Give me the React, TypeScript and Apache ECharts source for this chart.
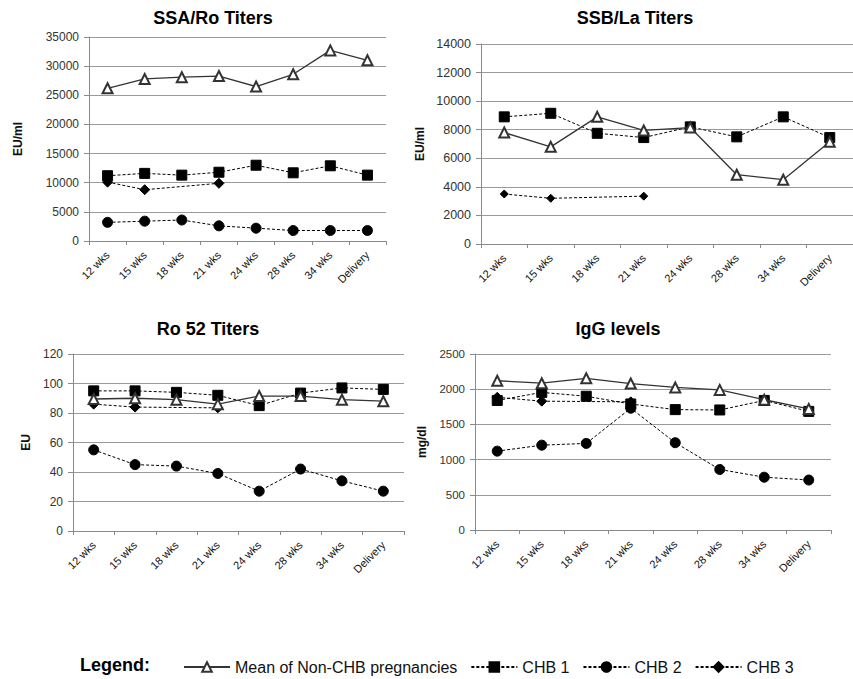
import React, { useEffect, useRef } from "react";
import * as echarts from "echarts";

const categories = ["12 wks", "15 wks", "18 wks", "21 wks", "24 wks", "28 wks", "34 wks", "Delivery"];

const ssaMean = [26200, 27800, 28100, 28300, 26500, 28600, 32700, 31000];
const ssaChb1 = [11200, 11600, 11300, 11800, 13000, 11700, 12900, 11300];
const ssaChb2 = [3200, 3400, 3600, 2600, 2200, 1800, 1800, 1800];
const ssaChb3 = [10100, 8800, null, 9900, null, null, null, null];

const ssbMean = [7800, 6800, 8900, 7950, 8150, 4850, 4500, 7150];
const ssbChb1 = [8900, 9150, 7750, 7450, 8200, 7500, 8900, 7450];
const ssbChb2 = [null, null, null, null, null, null, null, null];
const ssbChb3 = [3500, 3200, null, 3350, null, null, null, null];

const ro52Mean = [89.5, 90, 89, 86, 91.5, 91.5, 89, 88];
const ro52Chb1 = [95, 95, 94, 92, 85, 93.5, 97, 96];
const ro52Chb2 = [55, 45, 44, 39, 27, 42, 34, 27];
const ro52Chb3 = [86, 84, null, 83.5, null, null, null, null];

const iggMean = [2120, 2085, 2155, 2080, 2025, 1990, 1850, 1720];
const iggChb1 = [1840, 1955, 1900, 1790, 1710, 1705, 1840, 1685];
const iggChb2 = [1120, 1205, 1230, 1730, 1240, 860, 750, 710];
const iggChb3 = [1885, 1830, null, 1820, null, null, null, null];

const titles = ["SSA/Ro Titers", "SSB/La Titers", "Ro 52 Titers", "IgG levels"];
const yNames = ["EU/ml", "EU/ml", "EU", "mg/dl"];
const yMax = [35000, 14000, 120, 2500];
const yInterval = [5000, 2000, 20, 500];
const seriesNames = ["Mean of Non-CHB pregnancies", "CHB 1", "CHB 2", "CHB 3"];

const panels = [
  [ssaMean, ssaChb1, ssaChb2, ssaChb3],
  [ssbMean, ssbChb1, ssbChb2, ssbChb3],
  [ro52Mean, ro52Chb1, ro52Chb2, ro52Chb3],
  [iggMean, iggChb1, iggChb2, iggChb3],
];

const FONT = "'Liberation Sans', Arial, sans-serif";

export default function App() {
  const ref = useRef<HTMLDivElement>(null);
  useEffect(() => {
    if (!ref.current) return;
    const chart = echarts.init(ref.current, null, { renderer: "svg" });

    const grids = [
      { left: 89, top: 37, width: 297, height: 204 },
      { left: 481, top: 44, width: 381, height: 200 },
      { left: 73, top: 354, width: 331, height: 177 },
      { left: 475, top: 354, width: 356, height: 176 },
    ];
    const nameGaps = [65, 55, 41, 47];
    const yFont = [12, 12.5, 12, 11.5];
    const titlePos = [
      [213, 18],
      [635, 18],
      [208, 329],
      [618, 329],
    ];

    const xAxes = grids.map((_, i) => ({
      type: "category",
      gridIndex: i,
      data: categories,
      boundaryGap: true,
      axisLine: { lineStyle: { color: "#8a8a8a", width: 1 } },
      axisTick: { show: true, length: 4, lineStyle: { color: "#8a8a8a" } },
      axisLabel: { rotate: 45, fontSize: 11, color: "#111", fontFamily: FONT, margin: 12 },
      splitLine: { show: false },
    }));
    const yAxes = grids.map((_, i) => ({
      type: "value",
      gridIndex: i,
      min: 0,
      max: yMax[i],
      interval: yInterval[i],
      name: yNames[i],
      nameLocation: "middle",
      nameRotate: 90,
      nameGap: nameGaps[i],
      nameTextStyle: { fontSize: 12, fontWeight: "bold", color: "#111", fontFamily: FONT },
      axisLine: { show: true, lineStyle: { color: "#8a8a8a", width: 1 } },
      axisTick: { show: true, length: 5, lineStyle: { color: "#8a8a8a" } },
      axisLabel: {
        fontSize: yFont[i],
        color: "#333",
        fontFamily: FONT,
        margin: 10,
        formatter: (v: number) => String(v),
      },
      splitLine: { show: true, lineStyle: { color: "#9a9a9a", width: 1.2 } },
    }));

    const styles = [
      { symbol: "emptyTriangle", size: 10, color: "#333", line: "solid" as any, width: 1.3 },
      { symbol: "rect", size: 10, color: "#000", line: [3, 2], width: 1 },
      { symbol: "circle", size: 10, color: "#000", line: [3, 2], width: 1 },
      { symbol: "diamond", size: 10, color: "#000", line: [3, 2], width: 1 },
    ];

    const series: any[] = [];
    panels.forEach((vals, p) => {
      vals.forEach((data, s) => {
        const st = styles[s];
        series.push({
          type: "line",
          name: seriesNames[s],
          xAxisIndex: p,
          yAxisIndex: p,
          data,
          connectNulls: true,
          symbol: st.symbol,
          symbolSize: p === 1 && s === 3 ? 8 : st.size,
          itemStyle: { color: st.color, borderColor: st.color, borderWidth: 1 },
          lineStyle: { color: st.color, width: st.width, type: st.line },
          z: s === 0 ? 3 : 2,
        });
      });
    });

    const graphic: any[] = titles.map((t, i) => ({
      type: "text",
      x: titlePos[i][0],
      y: titlePos[i][1],
      style: {
        text: t,
        textAlign: "center",
        textVerticalAlign: "middle",
        font: `bold 18px ${FONT}`,
        fill: "#000",
      },
    }));
    graphic.push({
      type: "text",
      x: 80,
      y: 665,
      style: {
        text: "Legend:",
        textAlign: "left",
        textVerticalAlign: "middle",
        font: `bold 18px ${FONT}`,
        fill: "#000",
      },
    });

    chart.setOption({
      animation: false,
      backgroundColor: "#fff",
      grid: grids.map((g) => ({ ...g, containLabel: false })),
      xAxis: xAxes,
      yAxis: yAxes,
      series,
      graphic,
      legend: {
        left: 178,
        top: 654,
        itemWidth: 46,
        itemHeight: 12,
        itemGap: 13,
        data: seriesNames,
        textStyle: { fontSize: 16, color: "#111", fontFamily: FONT },
      },
    });
    return () => chart.dispose();
  }, []);

  return (
    <div
      ref={ref}
      style={{ position: "absolute", left: 0, top: 0, width: 853, height: 679, background: "#fff" }}
    />
  );
}
